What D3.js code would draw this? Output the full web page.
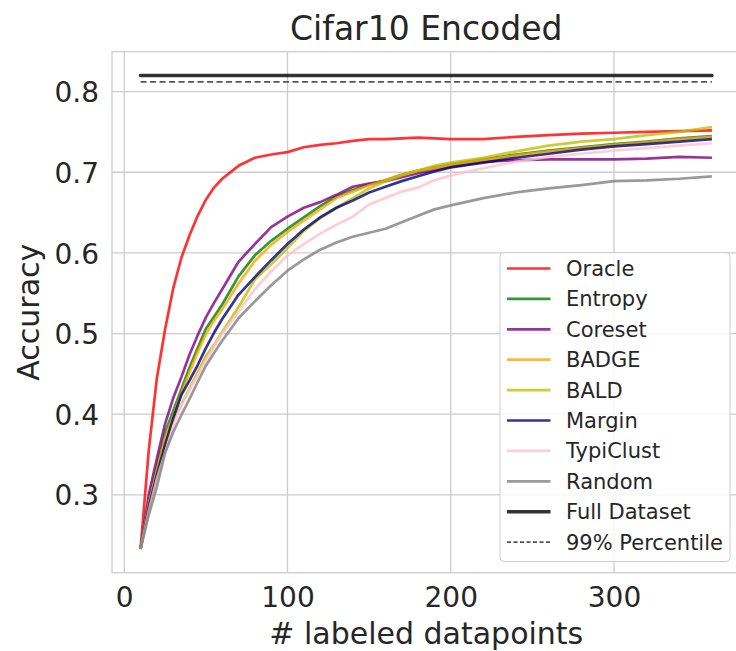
<!DOCTYPE html>
<html>
<head>
<meta charset="utf-8">
<script src="https://cdn.jsdelivr.net/npm/d3@7"></script>
<style>
  body { margin: 0; background: #fff; }
  text { font-family: "DejaVu Sans", sans-serif; fill: #262626; }
</style>
</head>
<body>
<div id="chart"></div>
<script>
// DATA
var labeledPoints = [10, 15, 20, 25, 30, 35, 40, 45, 50, 55, 60, 70, 80, 90, 100, 110, 120, 130, 140, 150, 160, 170, 180, 190, 200, 220, 240, 260, 280, 300, 320, 340, 360];

var oracleAcc = [0.233, 0.355, 0.445, 0.505, 0.556, 0.594, 0.622, 0.646, 0.666, 0.681, 0.692, 0.708, 0.718, 0.722, 0.725, 0.731, 0.734, 0.736, 0.739, 0.741, 0.741, 0.742, 0.743, 0.742, 0.741, 0.741, 0.744, 0.746, 0.748, 0.749, 0.750, 0.751, 0.752];
var entropyAcc = [0.233, 0.292, 0.335, 0.377, 0.404, 0.431, 0.458, 0.482, 0.506, 0.521, 0.536, 0.571, 0.597, 0.615, 0.630, 0.644, 0.658, 0.670, 0.678, 0.685, 0.690, 0.697, 0.702, 0.706, 0.710, 0.716, 0.722, 0.727, 0.731, 0.735, 0.738, 0.742, 0.745];
var coresetAcc = [0.233, 0.300, 0.345, 0.388, 0.420, 0.446, 0.474, 0.498, 0.520, 0.538, 0.555, 0.589, 0.611, 0.632, 0.645, 0.656, 0.663, 0.672, 0.682, 0.686, 0.689, 0.694, 0.699, 0.703, 0.707, 0.713, 0.715, 0.716, 0.716, 0.716, 0.717, 0.719, 0.718];
var badgeAcc = [0.233, 0.288, 0.330, 0.370, 0.398, 0.426, 0.452, 0.477, 0.499, 0.516, 0.530, 0.562, 0.590, 0.610, 0.626, 0.640, 0.654, 0.668, 0.676, 0.684, 0.690, 0.697, 0.702, 0.705, 0.709, 0.715, 0.721, 0.726, 0.730, 0.734, 0.737, 0.741, 0.744];
var baldAcc = [0.233, 0.288, 0.328, 0.362, 0.392, 0.412, 0.432, 0.452, 0.472, 0.486, 0.502, 0.533, 0.567, 0.586, 0.606, 0.627, 0.643, 0.656, 0.668, 0.680, 0.689, 0.696, 0.702, 0.708, 0.712, 0.718, 0.726, 0.733, 0.738, 0.741, 0.746, 0.750, 0.756];
var marginAcc = [0.233, 0.285, 0.325, 0.362, 0.395, 0.424, 0.442, 0.461, 0.482, 0.501, 0.518, 0.548, 0.570, 0.591, 0.611, 0.629, 0.644, 0.656, 0.665, 0.675, 0.682, 0.689, 0.695, 0.701, 0.706, 0.712, 0.718, 0.723, 0.728, 0.732, 0.735, 0.738, 0.741];
var typiclustAcc = [0.233, 0.280, 0.320, 0.352, 0.385, 0.412, 0.430, 0.448, 0.466, 0.484, 0.500, 0.527, 0.555, 0.577, 0.597, 0.611, 0.624, 0.635, 0.645, 0.660, 0.668, 0.676, 0.681, 0.690, 0.696, 0.705, 0.713, 0.719, 0.723, 0.727, 0.730, 0.733, 0.736];
var randomAcc = [0.233, 0.275, 0.310, 0.352, 0.378, 0.399, 0.419, 0.440, 0.460, 0.476, 0.491, 0.519, 0.540, 0.560, 0.578, 0.592, 0.604, 0.613, 0.620, 0.625, 0.630, 0.638, 0.646, 0.654, 0.659, 0.668, 0.675, 0.680, 0.684, 0.689, 0.690, 0.692, 0.695];

var fullDatasetAcc = 0.82;
var percentileAcc = 0.812;

var xTicks = [0, 100, 200, 300];
var yTicks = [0.3, 0.4, 0.5, 0.6, 0.7, 0.8];

var seriesNames = ["Oracle", "Entropy", "Coreset", "BADGE", "BALD", "Margin", "TypiClust", "Random"];
var seriesValues = [oracleAcc, entropyAcc, coresetAcc, badgeAcc, baldAcc, marginAcc, typiclustAcc, randomAcc];
var seriesColors = ["red", "green", "purple", "orange", "#bfbf00", "navy", "pink", "gray"];

// SETUP
var width = 736;
var height = 651;
var plotLeft = 112, plotRight = 740.5, plotTop = 51.7, plotBottom = 572.7;

var svg = d3
  .select("#chart")
  .append("svg")
  .attr("width", width)
  .attr("height", height)
  .style("background-color", "white");

var x = d3.scaleLinear().domain([-7.5, 377.5]).range([plotLeft, plotRight]);
var y = d3.scaleLinear().domain([0.2035, 0.8495]).range([plotBottom, plotTop]);

// GRID
svg
  .append("g")
  .selectAll("line")
  .data(xTicks)
  .enter()
  .append("line")
  .attr("x1", (d) => x(d))
  .attr("x2", (d) => x(d))
  .attr("y1", plotTop)
  .attr("y2", plotBottom)
  .attr("stroke", "#cccccc")
  .attr("stroke-width", 1.3);

svg
  .append("g")
  .selectAll("line")
  .data(yTicks)
  .enter()
  .append("line")
  .attr("x1", plotLeft)
  .attr("x2", plotRight)
  .attr("y1", (d) => y(d))
  .attr("y2", (d) => y(d))
  .attr("stroke", "#cccccc")
  .attr("stroke-width", 1.3);

// frame
svg
  .append("rect")
  .attr("x", plotLeft)
  .attr("y", plotTop)
  .attr("width", plotRight - plotLeft)
  .attr("height", plotBottom - plotTop)
  .attr("fill", "none")
  .attr("stroke", "#cccccc")
  .attr("stroke-width", 1.3);

// AXES (no tick marks, just labels)
var xAxis = svg
  .append("g")
  .attr("transform", "translate(0," + plotBottom + ")")
  .call(d3.axisBottom(x).tickValues(xTicks).tickSize(0).tickPadding(14));
var yAxis = svg
  .append("g")
  .attr("transform", "translate(" + plotLeft + ",0)")
  .call(d3.axisLeft(y).tickValues(yTicks).tickSize(0).tickPadding(13).tickFormat(d3.format(".1f")));

[xAxis, yAxis].forEach(function (ax) {
  ax.select(".domain").remove();
  ax.selectAll("text")
    .style("font-size", "28px")
    .style("font-family", "DejaVu Sans")
    .attr("fill", "#262626");
});
xAxis.selectAll("text").attr("dy", "0.71em").attr("y", 14);
yAxis.selectAll("text").attr("dy", "0.36em");

// LINES
var line = d3
  .line()
  .x((d) => x(d[0]))
  .y((d) => y(d[1]));

var plotArea = svg.append("g");

seriesValues.forEach(function (vals, i) {
  var pts = labeledPoints.map((p, j) => [p, vals[j]]);
  plotArea
    .append("path")
    .datum(pts)
    .attr("d", line)
    .attr("fill", "none")
    .attr("stroke", seriesColors[i])
    .attr("stroke-opacity", 0.8)
    .attr("stroke-width", 2.7)
    .attr("stroke-linejoin", "round");
});

var firstX = labeledPoints[0];
var lastX = labeledPoints[labeledPoints.length - 1];

plotArea
  .append("line")
  .attr("x1", x(firstX))
  .attr("x2", x(lastX))
  .attr("y1", y(fullDatasetAcc))
  .attr("y2", y(fullDatasetAcc))
  .attr("stroke", "black")
  .attr("stroke-opacity", 0.8)
  .attr("stroke-width", 3.6)
  .attr("stroke-linecap", "round");

plotArea
  .append("line")
  .attr("x1", x(firstX))
  .attr("x2", x(lastX))
  .attr("y1", y(percentileAcc))
  .attr("y2", y(percentileAcc))
  .attr("stroke", "#555555")
  .attr("stroke-width", 1.8)
  .attr("stroke-dasharray", "6,3.5");

// TITLE + LABELS
svg
  .append("text")
  .attr("x", (plotLeft + plotRight) / 2)
  .attr("y", 39.5)
  .attr("text-anchor", "middle")
  .style("font-size", "33px")
  .text("Cifar10 Encoded");

svg
  .append("text")
  .attr("x", (plotLeft + plotRight) / 2)
  .attr("y", 644)
  .attr("text-anchor", "middle")
  .style("font-size", "30px")
  .text("# labeled datapoints");

svg
  .append("text")
  .attr("transform", "translate(38.5," + (plotTop + plotBottom) / 2 + ") rotate(-90)")
  .attr("text-anchor", "middle")
  .style("font-size", "30px")
  .text("Accuracy");

// LEGEND
var legendItems = seriesNames.map((n, i) => ({ name: n, color: seriesColors[i], width: 2.7, dash: null, opacity: 0.8 }));
legendItems.push({ name: "Full Dataset", color: "black", width: 3.6, dash: null, opacity: 0.8 });
legendItems.push({ name: "99% Percentile", color: "#555555", width: 1.8, dash: "4,2.5", opacity: 1 });

var legend = svg.append("g").attr("transform", "translate(500,252.5)");
legend
  .append("rect")
  .attr("width", 230)
  .attr("height", 309)
  .attr("rx", 4)
  .attr("fill", "white")
  .attr("fill-opacity", 0.8)
  .attr("stroke", "#cccccc")
  .attr("stroke-width", 1);

var rows = legend
  .selectAll("g.row")
  .data(legendItems)
  .enter()
  .append("g")
  .attr("class", "row")
  .attr("transform", (d, i) => "translate(0," + (16 + i * 30.4) + ")");

rows
  .append("line")
  .attr("x1", 7)
  .attr("x2", 50.5)
  .attr("stroke", (d) => d.color)
  .attr("stroke-opacity", (d) => d.opacity)
  .attr("stroke-width", (d) => d.width)
  .attr("stroke-dasharray", (d) => d.dash);

rows
  .append("text")
  .attr("x", 66)
  .attr("dy", "0.36em")
  .style("font-size", "21px")
  .text((d) => d.name);
</script>
</body>
</html>
